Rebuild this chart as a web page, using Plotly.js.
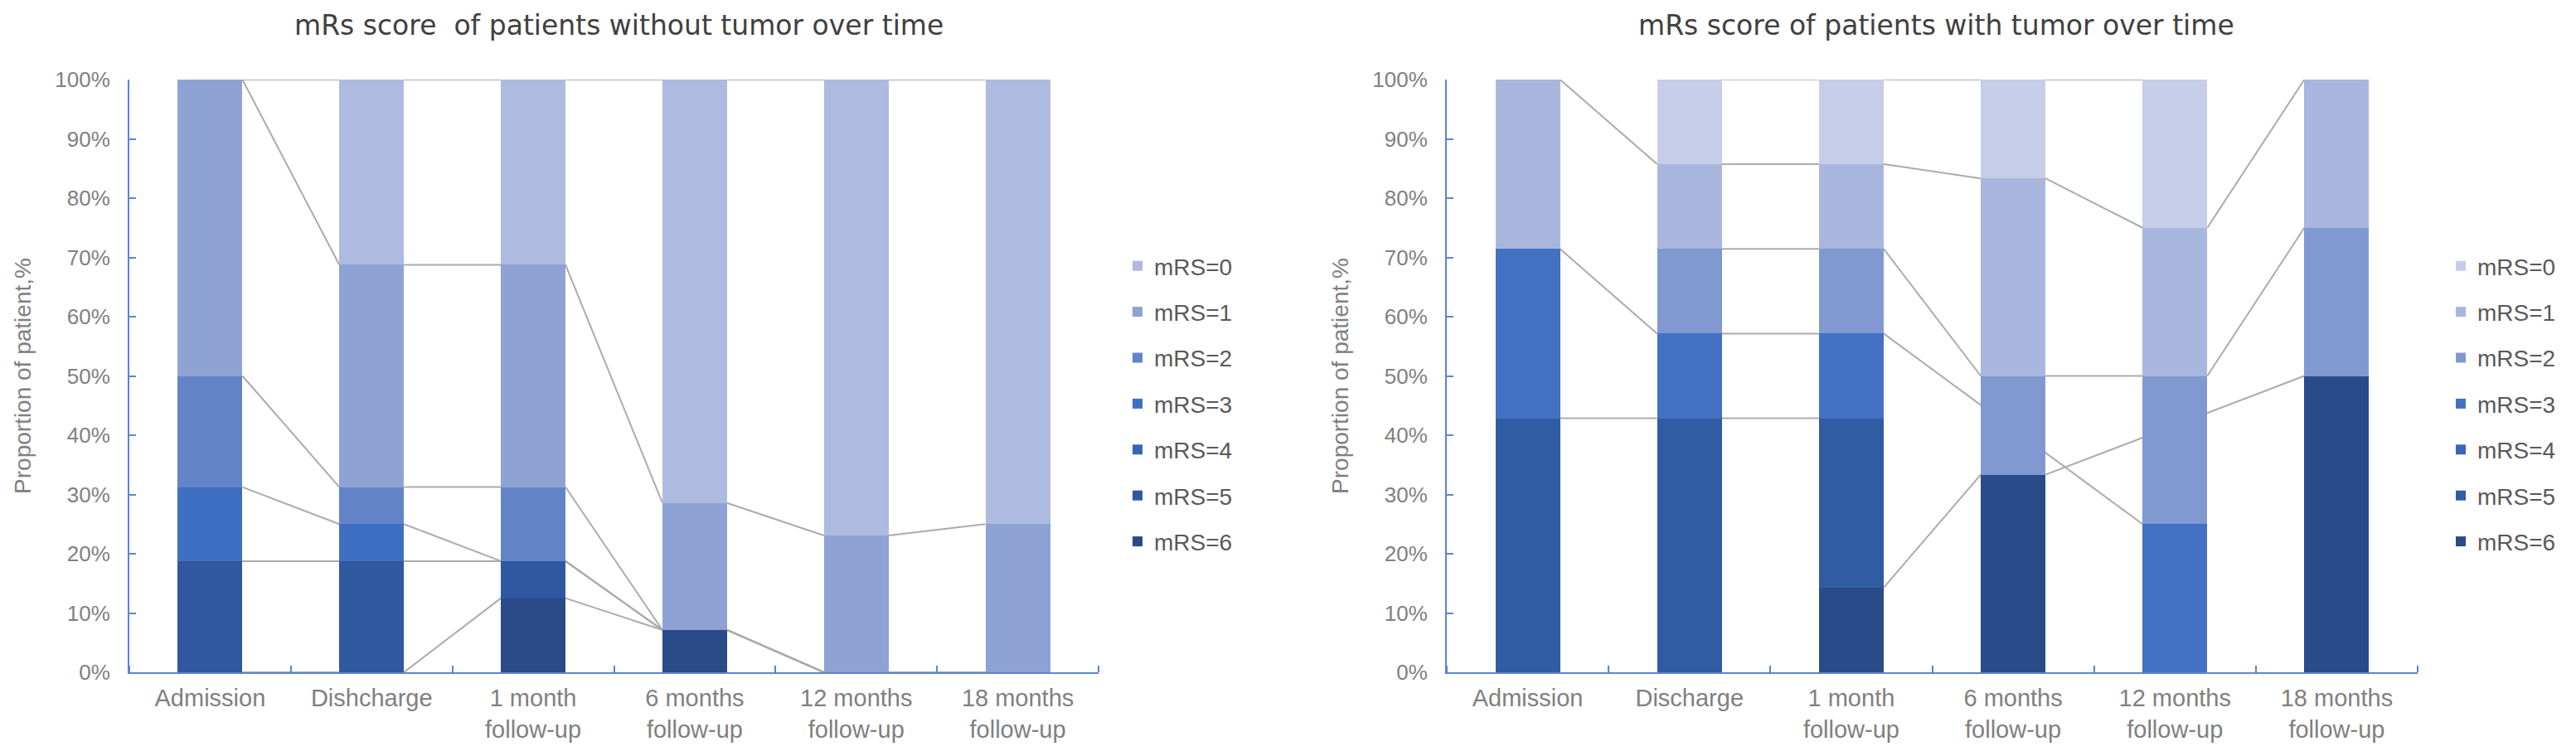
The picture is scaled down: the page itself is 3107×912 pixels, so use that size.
<!DOCTYPE html>
<html>
<head>
<meta charset="utf-8">
<script src="https://cdn.plot.ly/plotly-3.0.1.min.js"></script>
<style>
  html, body { margin: 0; padding: 0; background: #fff; }
  #chart { width: 3107px; height: 912px; }
</style>
</head>
<body>
<div id="chart"></div>
<script>
(function() {
  'use strict';

  // time points
  var labelsNoTumor = ['Admission', 'Dishcharge', '1 month<br>follow-up', '6 months<br>follow-up',
                       '12 months<br>follow-up', '18 months<br>follow-up'];
  var labelsTumor = ['Admission', 'Discharge', '1 month<br>follow-up', '6 months<br>follow-up',
                     '12 months<br>follow-up', '18 months<br>follow-up'];
  var scoreNames = ['mRS=0', 'mRS=1', 'mRS=2', 'mRS=3', 'mRS=4', 'mRS=5', 'mRS=6'];

  // proportion of patients (%) per mRS score, patients without tumor
  var noTumor0 = [0, 31.25, 31.25, 71.43, 76.92, 75];
  var noTumor1 = [50, 37.5, 37.5, 21.43, 23.08, 25];
  var noTumor2 = [18.75, 6.25, 12.5, 0, 0, 0];
  var noTumor3 = [12.5, 6.25, 0, 0, 0, 0];
  var noTumor4 = [0, 0, 0, 0, 0, 0];
  var noTumor5 = [18.75, 18.75, 6.25, 0, 0, 0];
  var noTumor6 = [0, 0, 12.5, 7.14, 0, 0];

  // patients with tumor (null = empty cell, series line skips it)
  var tumor0 = [null, 14.29, 14.29, 16.67, 25, null];
  var tumor1 = [28.57, 14.29, 14.29, 33.33, 25, 25];
  var tumor2 = [null, 14.29, 14.29, 16.67, 25, 25];
  var tumor3 = [28.57, 14.29, 14.29, null, 25, null];
  var tumor4 = [null, null, null, null, null, null];
  var tumor5 = [42.86, 42.86, 28.57, null, null, null];
  var tumor6 = [null, null, 14.29, 33.33, null, 50];

  var colorsNoTumor = ['#aebbe0', '#8fa2d4', '#6383c9', '#3f6fc2', '#3866b5', '#2f58a0', '#2a4a88'];
  var colorsTumor = ['#c5cde9', '#a9b6de', '#8099d0', '#4371c4', '#3a67b8', '#2f5ca3', '#2a4b8a'];

  var axisBlue = '#5a85d3';
  var grayText = '#808080';
  var baseFont = 'Liberation Sans, Arial, sans-serif';
  var barWidth = 0.4;

  var data = [];
  var shapes = [];

  function addPanel(series, colors, xa, ya, legendId, prefix) {
    var n = series[0].length;
    var xs = series[0].map(function(_, i) { return i; });
    var run = xs.map(function() { return 0; });
    var tops = [];
    // stack from mRS=6 at the bottom up to mRS=0
    for (var s = 6; s >= 0; s--) {
      tops[s] = [];
      for (var k = 0; k < n; k++) {
        var v = series[s][k];
        if (v === null) { tops[s][k] = null; continue; }
        run[k] += v;
        tops[s][k] = run[k];
      }
      data.push({
        type: 'bar', x: xs, y: series[s], name: scoreNames[s],
        xaxis: xa, yaxis: ya, legend: legendId,
        legendgroup: prefix + s, legendrank: s + 1,
        width: barWidth,
        marker: { color: colors[s], line: { width: 0 } },
        hovertemplate: '%{y}%<extra>' + scoreNames[s] + '</extra>'
      });
    }
    // series lines: right edge of one segment top to left edge of the next,
    // kept below the bars so skipped columns hide them
    var half = barWidth / 2;
    for (var t = 0; t <= 6; t++) {
      var prev = -1;
      for (var j = 0; j < n; j++) {
        if (tops[t][j] === null) continue;
        if (prev >= 0) {
          shapes.push({
            type: 'line', xref: xa, yref: ya, layer: 'below',
            x0: prev + half, y0: tops[t][prev], x1: j - half, y1: tops[t][j],
            line: { color: '#ababab', width: 2 }
          });
        }
        prev = j;
      }
    }
  }

  addPanel([noTumor0, noTumor1, noTumor2, noTumor3, noTumor4, noTumor5, noTumor6],
           colorsNoTumor, 'x', 'y', 'legend', 'a');
  addPanel([tumor0, tumor1, tumor2, tumor3, tumor4, tumor5, tumor6],
           colorsTumor, 'x2', 'y2', 'legend2', 'b');

  var W = 3107, H = 912;
  var yDomain = [(H - 811) / H, (H - 96) / H];

  function xAxis(domain, ticktext, anchor) {
    return {
      domain: domain, anchor: anchor, range: [-0.5, 5.5],
      tickmode: 'array', tickvals: [0, 1, 2, 3, 4, 5], ticktext: ticktext,
      ticks: '', ticklabelstandoff: 4,
      tickfont: { family: baseFont, size: 29, color: grayText },
      showline: true, linecolor: axisBlue, linewidth: 2,
      showgrid: false, zeroline: false, fixedrange: true,
      minor: {
        tickmode: 'array', tickvals: [-0.5, 0.5, 1.5, 2.5, 3.5, 4.5, 5.5],
        ticks: 'inside', ticklen: 8, tickwidth: 2, tickcolor: axisBlue, showgrid: false
      }
    };
  }

  function yAxis(anchor) {
    return {
      domain: yDomain, anchor: anchor, range: [0, 100], dtick: 10,
      ticksuffix: '%', ticks: 'inside', ticklen: 8, tickwidth: 2, tickcolor: axisBlue,
      ticklabelstandoff: 16,
      tickfont: { family: baseFont, size: 26, color: grayText },
      showline: true, linecolor: axisBlue, linewidth: 2,
      showgrid: false, zeroline: false, fixedrange: true,
      title: {
        text: 'Proportion of patient,%', standoff: 20,
        font: { family: baseFont, size: 28, color: grayText }
      }
    };
  }

  function legendBox(xPx) {
    return {
      x: xPx / W, xanchor: 'left', y: (H - 487) / H, yanchor: 'middle',
      traceorder: 'grouped', tracegroupgap: 16,
      bgcolor: 'rgba(0,0,0,0)', borderwidth: 0,
      font: { family: baseFont, size: 28, color: '#595959' }
    };
  }

  var titleFont = { family: 'DejaVu Sans, sans-serif', size: 33, color: '#404040' };

  var layout = {
    width: W, height: H,
    paper_bgcolor: '#fff', plot_bgcolor: '#fff',
    margin: { l: 0, r: 0, t: 0, b: 0 },
    barmode: 'stack',
    showlegend: true,
    xaxis: xAxis([156 / W, 1325 / W], labelsNoTumor, 'y'),
    yaxis: yAxis('x'),
    xaxis2: xAxis([1745 / W, 2916 / W], labelsTumor, 'y2'),
    yaxis2: yAxis('x2'),
    legend: legendBox(1352),
    legend2: legendBox(2948),
    shapes: shapes,
    annotations: [
      {
        xref: 'paper', yref: 'paper', x: 746 / W, y: 1 - 30 / H,
        xanchor: 'center', yanchor: 'middle', showarrow: false,
        text: 'mRs score\u00a0 of patients without tumor over time', font: titleFont
      },
      {
        xref: 'paper', yref: 'paper', x: 2335 / W, y: 1 - 30 / H,
        xanchor: 'center', yanchor: 'middle', showarrow: false,
        text: 'mRs score of patients with tumor over time', font: titleFont
      }
    ]
  };

  Plotly.newPlot('chart', data, layout, { displayModeBar: false, staticPlot: true });
})();
</script>
</body>
</html>
